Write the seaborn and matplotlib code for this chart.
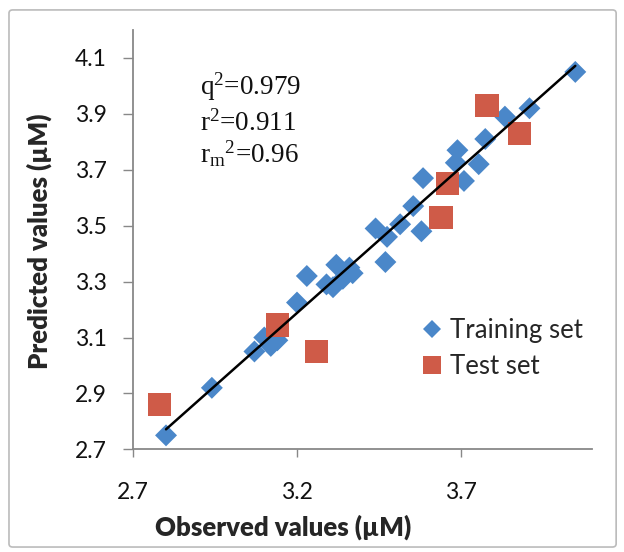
import numpy as np
import pandas as pd
import matplotlib.pyplot as plt
import seaborn as sns
from matplotlib.lines import Line2D
from matplotlib.patches import FancyBboxPatch

sns.set_style('white')
plt.rcParams['font.family'] = ['Lato', 'DejaVu Sans']
plt.rcParams['mathtext.fontset'] = 'custom'
plt.rcParams['mathtext.rm'] = 'Liberation Serif'
plt.rcParams['mathtext.it'] = 'Liberation Serif:italic'

# training set (observed, predicted)
train_obs = [2.80, 2.94, 3.07, 3.10, 3.12, 3.14, 3.20, 3.23, 3.29, 3.31, 3.32, 3.34,
             3.36, 3.37, 3.44, 3.47, 3.475, 3.515, 3.555, 3.58, 3.585, 3.685, 3.69,
             3.71, 3.755, 3.775, 3.835, 3.91, 4.05]
train_pred = [2.75, 2.92, 3.05, 3.10, 3.07, 3.09, 3.225, 3.32, 3.29, 3.28, 3.36, 3.31,
              3.35, 3.33, 3.49, 3.37, 3.46, 3.505, 3.57, 3.48, 3.67, 3.725, 3.77,
              3.66, 3.72, 3.81, 3.89, 3.92, 4.05]

# test set
test_obs = [2.78, 3.14, 3.26, 3.64, 3.66, 3.78, 3.88]
test_pred = [2.86, 3.145, 3.05, 3.53, 3.65, 3.93, 3.83]

stats_lines = [r'q$^{2}$=0.979',
               r'r$^{2}$=0.911',
               r'r$_{\mathrm{m}}{}^{2}$=0.96']

blue = '#4A87C9'
red = '#CF5B48'

train_df = pd.DataFrame({'obs': train_obs, 'pred': train_pred})
test_df = pd.DataFrame({'obs': test_obs, 'pred': test_pred})

fig = plt.figure(figsize=(6.24, 5.52), dpi=100)
fig.patches.append(FancyBboxPatch((0.0144, 0.009), 0.973, 0.973,
                                  boxstyle='round,pad=0,rounding_size=0.006',
                                  transform=fig.transFigure, facecolor='none',
                                  edgecolor='#BBBBBB', linewidth=1.2))
ax = fig.add_axes([0.2136, 0.186, 0.7346, 0.7597])

sns.scatterplot(data=train_df, x='obs', y='pred', marker='D', s=125, color=blue,
                edgecolor='none', linewidth=0, ax=ax, zorder=2)
sns.scatterplot(data=test_df, x='obs', y='pred', marker='s', s=286, color=red,
                edgecolor='none', linewidth=0, ax=ax, zorder=3)

# linear trendline through the training set
slope, icpt = np.polyfit(train_obs, train_pred, 1)
fx = np.array([min(train_obs), max(train_obs)])
ax.plot(fx, slope * fx + icpt, color='black', linewidth=1.8, zorder=4)

ax.set_xlim(2.7, 4.1)
ax.set_ylim(2.7, 4.2)
ax.set_xticks([2.7, 3.2, 3.7])
ax.set_yticks([2.7, 2.9, 3.1, 3.3, 3.5, 3.7, 3.9, 4.1])
ax.set_xticklabels(['2.7', '3.2', '3.7'])
ax.set_yticklabels(['2.7', '2.9', '3.1', '3.3', '3.5', '3.7', '3.9', '4.1'])
ax.tick_params(axis='x', direction='out', length=5.5, width=1, color='#888888',
               pad=18, labelsize=16.5, labelcolor='#111111', bottom=True)
ax.tick_params(axis='y', direction='out', length=7, width=1, color='#888888',
               pad=12, labelsize=16.5, labelcolor='#111111', left=True)
for side in ['top', 'right']:
    ax.spines[side].set_visible(False)
for side in ['left', 'bottom']:
    ax.spines[side].set_color('#888888')
    ax.spines[side].set_linewidth(1.3)

ax.set_xlabel('Observed values (µM)', fontsize=18.5, fontweight='heavy', va='center')
ax.set_ylabel('Predicted values (µM)', fontsize=18.5, fontweight='heavy', va='center')
ax.xaxis.set_label_coords(0.327, -0.185)
ax.yaxis.set_label_coords(-0.205, 0.495)

for txt, yy in zip(stats_lines, [0.845, 0.760, 0.683]):
    ax.text(0.145, yy, txt, transform=ax.transAxes, fontsize=19.5, va='baseline',
            ha='left', color='#111111', family='Liberation Serif')

handles = [Line2D([], [], marker='D', linestyle='none', markersize=9.2,
                  markerfacecolor=blue, markeredgewidth=0),
           Line2D([], [], marker='s', linestyle='none', markersize=12.6,
                  markerfacecolor=red, markeredgewidth=0)]
ax.legend(handles, ['Training set', 'Test set'], loc='center left',
          bbox_to_anchor=(0.623, 0.241), frameon=False, fontsize=18.5,
          handlelength=1.0, handletextpad=0.2, labelspacing=0.42,
          borderpad=0, borderaxespad=0)

fig.savefig('out.png', dpi=100)
